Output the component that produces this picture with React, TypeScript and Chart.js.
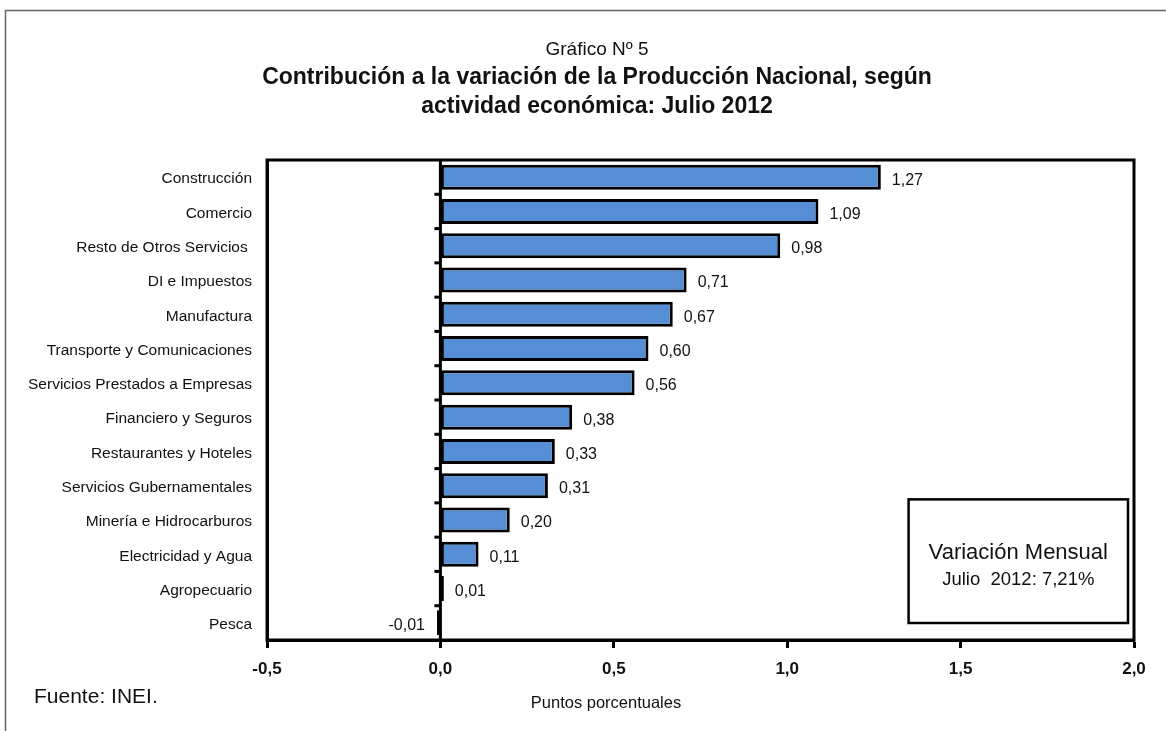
import React, { useEffect, useRef } from "react";
import { Chart, registerables } from "chart.js";

Chart.register(...registerables);

const categories = [
  "Construcción",
  "Comercio",
  "Resto de Otros Servicios ",
  "DI e Impuestos",
  "Manufactura",
  "Transporte y Comunicaciones",
  "Servicios Prestados a Empresas",
  "Financiero y Seguros",
  "Restaurantes y Hoteles",
  "Servicios Gubernamentales",
  "Minería e Hidrocarburos",
  "Electricidad y Agua",
  "Agropecuario",
  "Pesca",
];
const values = [1.27, 1.09, 0.98, 0.71, 0.67, 0.6, 0.56, 0.38, 0.33, 0.31, 0.2, 0.11, 0.01, -0.01];
const xTicks = [-0.5, 0, 0.5, 1, 1.5, 2];
const titleSmall = "Gráfico Nº 5";
const titleLines = [
  "Contribución a la variación de la Producción Nacional, según",
  "actividad económica: Julio 2012",
];
const xTitle = "Puntos porcentuales";
const sourceNote = "Fuente: INEI.";
const boxLines = ["Variación Mensual", "Julio  2012: 7,21%"];

const FONT = "'Liberation Sans Narrow', 'Arial Narrow', 'Liberation Sans', sans-serif";
const fmt = (v: number, d: number) => v.toFixed(d).replace(".", ",");

const decorPlugin = {
  id: "decor",
  beforeDraw(chart: any) {
    const ctx = chart.ctx;
    ctx.save();
    ctx.fillStyle = "#fff";
    ctx.fillRect(0, 0, chart.width, chart.height);
    ctx.strokeStyle = "#666";
    ctx.lineWidth = 1.5;
    ctx.strokeRect(5.5, 10.5, chart.width + 20, chart.height + 20);
    // titles
    ctx.fillStyle = "#111";
    ctx.textAlign = "center";
    ctx.textBaseline = "alphabetic";
    ctx.font = "19px " + FONT;
    ctx.fillText(titleSmall, 597, 55);
    ctx.font = "bold 23px " + FONT;
    ctx.fillText(titleLines[0], 597, 84);
    ctx.fillText(titleLines[1], 597, 113);
    ctx.restore();
  },
  afterDatasetsDraw(chart: any) {
    const ctx = chart.ctx;
    const { left, right, top, bottom } = chart.chartArea;
    const x = chart.scales.x;
    ctx.save();
    // zero line with category ticks
    const x0 = x.getPixelForValue(0);
    ctx.strokeStyle = "#000";
    ctx.lineWidth = 3;
    ctx.beginPath();
    ctx.moveTo(x0, top);
    ctx.lineTo(x0, bottom);
    ctx.stroke();
    const step = (bottom - top) / categories.length;
    for (let i = 1; i < categories.length; i++) {
      const yy = top + step * i;
      ctx.beginPath();
      ctx.moveTo(x0 - 6, yy);
      ctx.lineTo(x0, yy);
      ctx.stroke();
    }
    // plot frame
    ctx.strokeRect(left, top, right - left, bottom - top);
    // value labels
    const meta = chart.getDatasetMeta(0);
    ctx.fillStyle = "#111";
    ctx.font = "16px " + FONT;
    ctx.textBaseline = "middle";
    meta.data.forEach((bar: any, i: number) => {
      const v = values[i];
      if (v >= 0) {
        ctx.textAlign = "left";
        ctx.fillText(fmt(v, 2), bar.x + 11, bar.y + 3);
      } else {
        ctx.textAlign = "right";
        ctx.fillText(fmt(v, 2), bar.x - 12, bar.y + 3);
      }
    });
    // info box
    const bx = x.getPixelForValue(1.35);
    const by = top + (bottom - top) * 0.707;
    const bw = right - 6 - bx;
    const bh = bottom - 17 - by;
    ctx.fillStyle = "#fff";
    ctx.fillRect(bx, by, bw, bh);
    ctx.lineWidth = 2.5;
    ctx.strokeRect(bx, by, bw, bh);
    ctx.fillStyle = "#111";
    ctx.textAlign = "center";
    ctx.font = "22px " + FONT;
    ctx.fillText(boxLines[0], bx + bw / 2, by + 54);
    ctx.font = "18.5px " + FONT;
    ctx.fillText(boxLines[1], bx + bw / 2, by + 81);
    // axis title
    ctx.font = "16.5px " + FONT;
    ctx.fillText(xTitle, 606, 703);
    // source note
    ctx.textAlign = "left";
    ctx.font = "21px " + FONT;
    ctx.fillText(sourceNote, 34, 697);
    ctx.restore();
  },
};

export default function App() {
  const ref = useRef<HTMLCanvasElement | null>(null);
  useEffect(() => {
    if (!ref.current) return;
    const chart = new Chart(ref.current, {
      type: "bar",
      data: {
        labels: categories,
        datasets: [
          {
            data: values,
            backgroundColor: "#558ED5",
            borderColor: "#000",
            borderWidth: 3,
            borderSkipped: false,
            barPercentage: 0.73,
            categoryPercentage: 1,
          },
        ],
      },
      options: {
        indexAxis: "y",
        animation: false,
        responsive: false,
        layout: { padding: { left: 0, right: 32, top: 160, bottom: 0 } },
        plugins: {
          legend: { display: false },
          tooltip: { enabled: false },
          title: { display: false },
        },
        scales: {
          x: {
            type: "linear",
            min: -0.5,
            max: 2,
            afterBuildTicks: (scale: any) => {
              scale.ticks = xTicks.map((v) => ({ value: v }));
            },
            afterFit: (scale: any) => {
              scale.height = 91;
            },
            ticks: {
              color: "#111",
              font: { family: FONT, size: 17, weight: "bold" },
              padding: 11,
              callback: (v: any) => fmt(Number(v), 1),
            },
            grid: {
              drawOnChartArea: false,
              drawTicks: true,
              tickLength: 8,
              tickWidth: 3,
              tickColor: "#000",
            },
            border: { display: true, width: 3, color: "#000" },
            title: { display: false },
          },
          y: {
            afterFit: (scale: any) => {
              scale.width = 267;
            },
            ticks: {
              color: "#111",
              font: { family: FONT, size: 15.5 },
              padding: 15,
              labelOffset: 2,
            },
            grid: { display: false, drawTicks: false },
            border: { display: true, width: 3, color: "#000" },
          },
        },
      },
      plugins: [decorPlugin],
    });
    return () => chart.destroy();
  }, []);
  return (
    <div style={{ position: "fixed", left: 0, top: 0, width: 1166, height: 731, background: "#fff" }}>
      <canvas ref={ref} width={1166} height={731} style={{ display: "block" }} />
    </div>
  );
}
